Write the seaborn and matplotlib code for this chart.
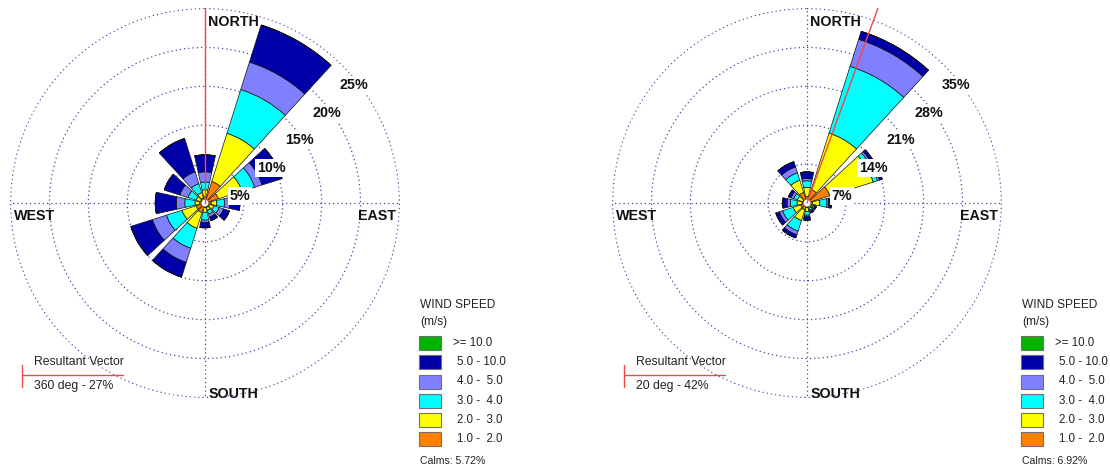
import numpy as np
import pandas as pd
import matplotlib
matplotlib.use("Agg")
import matplotlib.pyplot as plt
import seaborn as sns

# ---------------------------------------------------------------- data
directions = [0, 30, 60, 90, 120, 150, 180, 210, 240, 270, 300, 330]
speed_classes = [">= 10.0", "5.0 - 10.0", "4.0 -  5.0", "3.0 -  4.0", "2.0 -  3.0", "1.0 -  2.0"]

# frequency (%) per direction and speed class, site A
a_1_2 = [0.8, 2.9, 1.8, 0.8, 0.6, 0.6, 0.6, 1.3, 1.2, 0.7, 0.6, 0.7]
a_2_3 = [0.9, 6.5, 3.2, 0.7, 0.6, 0.4, 0.6, 2.1, 1.9, 0.6, 0.6, 0.7]
a_3_4 = [1.0, 5.9, 1.7, 1.0, 0.7, 0.5, 1.0, 2.7, 2.1, 1.3, 1.1, 1.2]
a_4_5 = [1.3, 3.7, 1.0, 0.7, 0.6, 0.4, 0.3, 1.9, 1.9, 1.1, 1.1, 1.6]
a_5_10 = [2.2, 5.0, 2.7, 1.3, 0.8, 0.5, 0.7, 2.0, 2.9, 2.7, 2.1, 4.5]
a_10 = [0.0] * 12
a_calms = 5.72
a_result_deg, a_result_pct = 360, 27
a_rings = [5, 10, 15, 20, 25]

# frequency (%) per direction and speed class, site B
b_1_2 = [1.2, 2.5, 4.3, 1.0, 0.5, 0.6, 0.8, 1.3, 1.2, 0.9, 0.8, 2.0]
b_2_3 = [1.6, 10.7, 8.2, 1.3, 0.4, 0.4, 0.7, 2.0, 1.4, 0.9, 1.0, 2.3]
b_3_4 = [1.2, 12.6, 0.8, 1.3, 0.3, 0.4, 0.7, 2.0, 2.0, 1.2, 0.7, 1.4]
b_4_5 = [0.4, 5.1, 0.4, 0.3, 0.3, 0.2, 0.3, 0.7, 0.6, 0.6, 0.5, 1.1]
b_5_10 = [1.2, 1.5, 0.5, 0.5, 0.3, 0.3, 0.6, 0.6, 0.7, 0.8, 0.5, 1.0]
b_10 = [0.0] * 12
b_calms = 6.92
b_result_deg, b_result_pct = 20, 42
b_rings = [7, 14, 21, 28, 35]


def long_table(s12, s23, s34, s45, s510, s10):
    cols = {"1.0 -  2.0": s12, "2.0 -  3.0": s23, "3.0 -  4.0": s34,
            "4.0 -  5.0": s45, "5.0 - 10.0": s510, ">= 10.0": s10}
    wide = pd.DataFrame(cols, index=pd.Index(directions, name="direction"))
    return wide.reset_index().melt(id_vars="direction", var_name="speed", value_name="pct")


site_a = long_table(a_1_2, a_2_3, a_3_4, a_4_5, a_5_10, a_10)
site_b = long_table(b_1_2, b_2_3, b_3_4, b_4_5, b_5_10, b_10)

# ---------------------------------------------------------------- style
sns.set_theme(style="white")
plt.rcParams["font.family"] = ["Liberation Sans", "DejaVu Sans"]

palette = sns.color_palette(["#00b400", "#0000a8", "#8080ff", "#00ffff", "#ffff00", "#ff8000"])
speed_color = dict(zip(speed_classes, palette))
stack_order = ["1.0 -  2.0", "2.0 -  3.0", "3.0 -  4.0", "4.0 -  5.0", "5.0 - 10.0", ">= 10.0"]

GRID = "#4646a6"
GRID_STYLE = (0, (1, 2.4))
RED = "#f04848"
W, H = 1110, 468
RADIUS = 195  # pixel radius of the outermost ring

fig = plt.figure(figsize=(W / 100, H / 100), dpi=100)
fig.patch.set_facecolor("white")


def rect(x0, y0, w, h):
    return [x0 / W, 1 - (y0 + h) / H, w / W, h / H]


def draw_rose(cx, cy, table, rings, calms, res_deg, res_pct):
    ax = fig.add_axes(rect(cx - RADIUS, cy - RADIUS, 2 * RADIUS, 2 * RADIUS), projection="polar")
    ax.set_facecolor("white")
    ax.set_theta_zero_location("N")
    ax.set_theta_direction(-1)
    rmax = rings[-1]
    ax.set_ylim(0, rmax * 1.003)
    ax.set_yticks(rings)
    ax.set_yticklabels([])
    ax.set_xticks(np.deg2rad([0, 90, 180, 270]))
    ax.set_xticklabels([])
    ax.grid(True, color=GRID, linestyle=GRID_STYLE, linewidth=0.9)
    ax.spines["polar"].set_visible(False)
    ax.set_axisbelow(True)

    theta = np.deg2rad(directions)
    width = np.deg2rad(25)
    bottom = np.zeros(len(directions))
    for sp in stack_order:
        vals = table[table.speed == sp].set_index("direction").loc[directions, "pct"].to_numpy()
        ax.bar(theta, vals, width=width, bottom=bottom, color=speed_color[sp],
               edgecolor="#101010", linewidth=0.5, zorder=2)
        bottom += vals

    # calm hole at the centre
    unit = RADIUS / rmax
    ax.bar(0, 3.5 / unit, width=2 * np.pi, bottom=0, color="white", linewidth=0, zorder=3)

    # resultant vector, clipped to the axes box rather than the circle
    th = np.deg2rad(res_deg)
    ln, = ax.plot([th, th], [0, res_pct], color=RED, linewidth=1.0, zorder=4)
    ln.set_clip_path(None)
    ln.set_clip_box(ax.bbox)
    ln.set_clip_on(True)

    # ring labels (pixel offsets from the centre)
    offsets = [(35, 7), (66, 35), (94, 63), (122, 90), (149, 118)]
    for val, (dx, dy) in zip(rings, offsets):
        ax.annotate(f"{val}%", xy=(0, 0), xytext=(dx * 0.72, dy * 0.72), textcoords="offset points",
                    ha="center", va="center", fontsize=10.3, fontweight="bold", color="#111111",
                    bbox=dict(boxstyle="square,pad=0.12", fc="white", ec="none"), zorder=5,
                    annotation_clip=False)

    # compass labels
    compass = [("NORTH", 28.5, 181.5), ("WEST", -170.5, -13.5), ("EAST", 172, -13.5), ("SOUTH", 28.5, -190.5)]
    for txt, dx, dy in compass:
        ax.annotate(txt, xy=(0, 0), xytext=(dx * 0.72, dy * 0.72), textcoords="offset points",
                    ha="center", va="center", fontsize=10.3, fontweight="bold", color="#111111",
                    annotation_clip=False, zorder=5)
    return ax


def draw_notes(x0, calms, res_deg, res_pct):
    # resultant vector key
    ov.plot([x0 + 21.7, x0 + 21.7], [365, 387], color=RED, linewidth=1.0)
    ov.plot([x0 + 21.7, x0 + 123], [375, 375], color=RED, linewidth=1.0)
    ov.text(x0 + 34, 362, "Resultant Vector", fontsize=8.8, color="#222222", va="center", ha="left")
    ov.text(x0 + 34, 386, f"{res_deg} deg - {res_pct}%", fontsize=8.8, color="#222222", va="center", ha="left")

    # wind speed legend
    lx = x0 + 420
    ov.text(lx, 305, "WIND SPEED", fontsize=8.6, color="#222222", va="center", ha="left")
    ov.text(lx, 322, "(m/s)", fontsize=8.6, color="#222222", va="center", ha="left")
    for i, sp in enumerate(speed_classes):
        yc = 343.3 + i * 19.1
        ov.add_patch(plt.Rectangle((lx - 0.7, yc - 7), 21.4, 14, facecolor=speed_color[sp],
                                   edgecolor="#707070", linewidth=0.8))
        tx = lx + 32.7 if i == 0 else lx + 36.7
        ov.text(tx, yc, sp, fontsize=8.3, color="#222222", va="center", ha="left")
    ov.text(lx, 461, f"Calms: {calms:.2f}%", fontsize=7.6, color="#222222", va="center", ha="left")


draw_rose(205, 203, site_a, a_rings, a_calms, a_result_deg, a_result_pct)
draw_rose(807, 203, site_b, b_rings, b_calms, b_result_deg, b_result_pct)

# overlay for the notes and legends, in pixel coordinates, above the roses
ov = fig.add_axes([0, 0, 1, 1])
ov.set_zorder(10)
ov.patch.set_alpha(0)
ov.set_xlim(0, W)
ov.set_ylim(H, 0)
ov.axis("off")

draw_notes(0, a_calms, a_result_deg, a_result_pct)
draw_notes(602, b_calms, b_result_deg, b_result_pct)

fig.savefig("out.png", dpi=100, facecolor="white")
